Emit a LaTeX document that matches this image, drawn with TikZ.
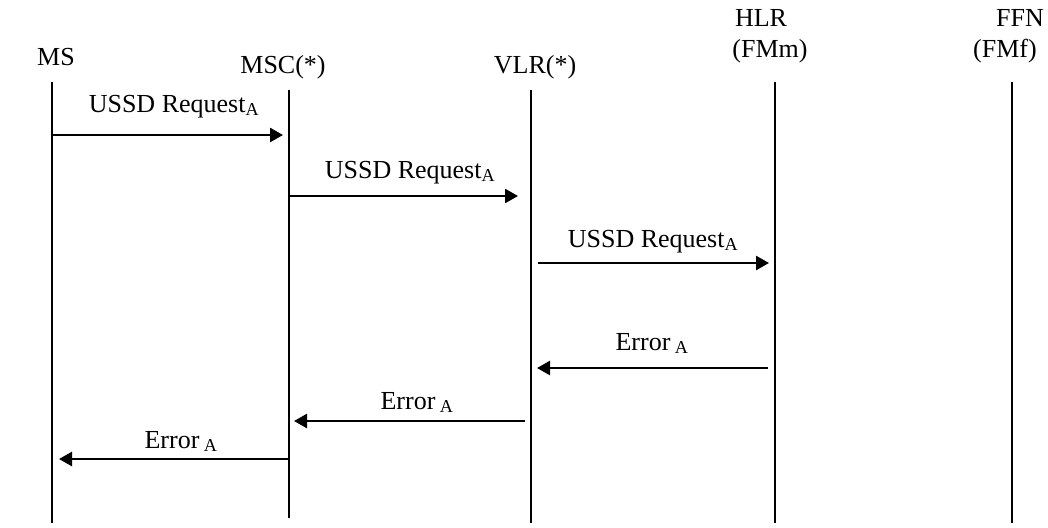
\documentclass[tikz,border=0pt]{standalone}
\usepackage{fontspec}
\setmainfont{Liberation Serif}
\usetikzlibrary{arrows.meta}
\begin{document}
\begin{tikzpicture}[x=1pt,y=-1pt,
  lbl/.style={anchor=base,inner sep=0pt,font=\fontsize{26}{30}\selectfont},
  life/.style={line width=2.2pt},
  msg/.style={line width=2.5pt,-{Triangle[length=13pt,width=14pt]}}]
\useasboundingbox (0,0) rectangle (1048,527);
% headers
\node[lbl] (hms) at (56,65) {MS};
\node[lbl] (hmsc) at (283,74) {MSC(*)};
\node[lbl] (hvlr) at (535,74) {VLR(*)};
\node[lbl] (hhlr) at (761,27) {HLR};
\node[lbl] (hhlr2) at (770,58) {(FMm)};
\node[lbl] (hffn) at (1020,27) {FFN};
\node[lbl] (hffn2) at (1005,58) {(FMf)};
% lifelines
\coordinate (msT) at (52,82);   \coordinate (msB) at (52,523);
\coordinate (mscT) at (289,90); \coordinate (mscB) at (289,518);
\coordinate (vlrT) at (531,90); \coordinate (vlrB) at (531,523);
\coordinate (hlrT) at (775,82); \coordinate (hlrB) at (775,523);
\coordinate (ffnT) at (1012,82);\coordinate (ffnB) at (1012,523);
\draw[life] (msT) -- (msB);
\draw[life] (mscT) -- (mscB);
\draw[life] (vlrT) -- (vlrB);
\draw[life] (hlrT) -- (hlrB);
\draw[life] (ffnT) -- (ffnB);
% message endpoints
\coordinate (a1s) at (52,135);  \coordinate (a1e) at (283,135);
\coordinate (a2s) at (289,196); \coordinate (a2e) at (518,196);
\coordinate (a3s) at (538,263); \coordinate (a3e) at (769,263);
\coordinate (a4s) at (768,368); \coordinate (a4e) at (537,368);
\coordinate (a5s) at (525,421); \coordinate (a5e) at (294,421);
\coordinate (a6s) at (289,459); \coordinate (a6e) at (59,459);
\draw[msg] (a1s) -- (a1e);
\draw[msg] (a2s) -- (a2e);
\draw[msg] (a3s) -- (a3e);
\draw[msg] (a4s) -- (a4e);
\draw[msg] (a5s) -- (a5e);
\draw[msg] (a6s) -- (a6e);
% labels
\node[lbl] (l1) at (174,112) {USSD Request\textsubscript{A}};
\node[lbl] (l2) at (410,178) {USSD Request\textsubscript{A}};
\node[lbl] (l3) at (653,247) {USSD Request\textsubscript{A}};
\node[lbl] (l4) at (652,350) {Error\,\textsubscript{A}};
\node[lbl] (l5) at (417,409) {Error\,\textsubscript{A}};
\node[lbl] (l6) at (181,448) {Error\,\textsubscript{A}};
\end{tikzpicture}
\end{document}
